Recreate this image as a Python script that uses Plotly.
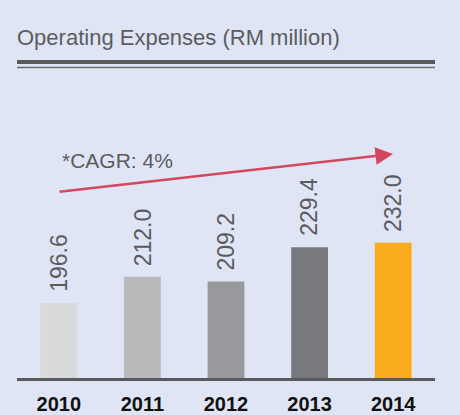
import plotly.graph_objects as go

years = ["2010", "2011", "2012", "2013", "2014"]
values = [196.6, 212.0, 209.2, 229.4, 232.0]
value_labels = ["196.6", "212.0", "209.2", "229.4", "232.0"]
bar_colors = ["#d9dadc", "#b8b9bb", "#98999c", "#78797c", "#f9ac1b"]
title_text = "Operating Expenses (RM million)"
cagr_text = "*CAGR: 4%"

W, H = 460, 415
ML, MR, MT, MB = 17, 25, 70, 37
plot_h = H - MT - MB
px_per_unit = 1.70
y0 = 152.5
y1 = y0 + plot_h / px_per_unit

def px_to_paper_x(px):
    return (px - ML) / (W - ML - MR)

def py_to_paper_y(py):
    return (H - MB - py) / plot_h

font_family = "Liberation Sans, Arial, sans-serif"
bg = "#dfe5f4"

fig = go.Figure()
fig.add_trace(go.Bar(
    x=years, y=values, marker=dict(color=bar_colors, line=dict(width=0)),
    width=0.44, hoverinfo="skip"
))

annotations = []
for i, (v, lab) in enumerate(zip(values, value_labels)):
    annotations.append(dict(
        x=i, y=v, xref="x", yref="y", text=lab, showarrow=False,
        textangle=-90, yanchor="bottom", xanchor="center", yshift=9,
        font=dict(family=font_family, size=23, color="#5b5c5f")
    ))

annotations.append(dict(
    x=0, y=py_to_paper_y(38), xref="paper", yref="paper", text=title_text,
    showarrow=False, xanchor="left", yanchor="middle", xshift=-2,
    font=dict(family=font_family, size=22, color="#5b5c5f")
))
annotations.append(dict(
    x=px_to_paper_x(117), y=py_to_paper_y(160), xref="paper", yref="paper",
    text=cagr_text, showarrow=False, xanchor="center", yanchor="middle",
    font=dict(family=font_family, size=21, color="#5b5c5f")
))
annotations.append(dict(
    x=px_to_paper_x(393), y=py_to_paper_y(154), xref="paper", yref="paper",
    ax=58 - 393, ay=192 - 154, axref="pixel", ayref="pixel",
    text="", showarrow=True, arrowhead=2, arrowsize=1.4, arrowwidth=2.5,
    arrowcolor="#d4475f"
))

shapes = [
    dict(type="line", xref="paper", yref="paper", x0=0, x1=1,
         y0=py_to_paper_y(62), y1=py_to_paper_y(62),
         line=dict(color="#58595b", width=4)),
    dict(type="line", xref="paper", yref="paper", x0=0, x1=1,
         y0=py_to_paper_y(67.5), y1=py_to_paper_y(67.5),
         line=dict(color="#6a6b6f", width=1.5)),
]

fig.update_layout(
    width=W, height=H,
    margin=dict(l=ML, r=MR, t=MT, b=MB, pad=0),
    paper_bgcolor=bg, plot_bgcolor=bg,
    showlegend=False,
    annotations=annotations,
    shapes=shapes,
    xaxis=dict(
        type="category", automargin=False, range=[-0.5, len(years) - 0.5],
        showgrid=False, zeroline=False, showline=True, linewidth=3,
        linecolor="#595a5e", ticks="", ticklabelstandoff=6,
        tickfont=dict(family=font_family, size=20, color="#111111", weight="bold"),
        fixedrange=True,
    ),
    yaxis=dict(
        range=[y0, y1], showgrid=False, zeroline=False, showticklabels=False,
        showline=False, ticks="", fixedrange=True, automargin=False,
    ),
)

fig.write_html(
    "out.html",
    config={"displayModeBar": False},
    post_script="document.body.style.margin='0';document.body.style.background='#dfe5f4';",
)
